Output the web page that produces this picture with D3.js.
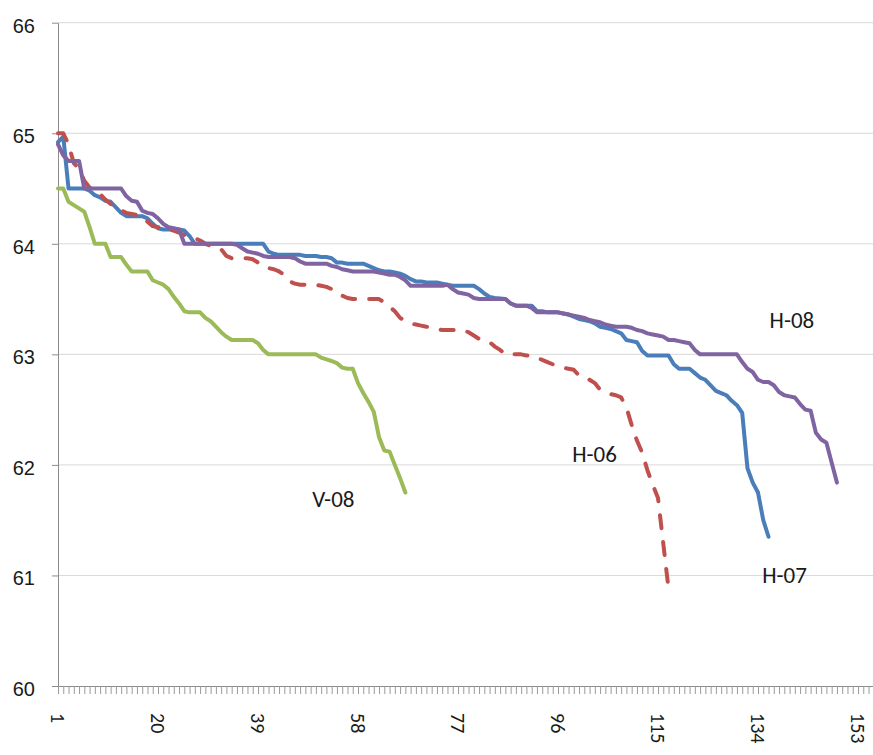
<!DOCTYPE html>
<html>
<head>
<meta charset="utf-8">
<script src="https://cdn.jsdelivr.net/npm/d3@7"></script>
<style>
  body { margin: 0; background: #fff; }
  svg { display: block; font-family: Calibri, Carlito, Lato, sans-serif; }
</style>
</head>
<body>
<div class="chart"></div>
<script>
// categories 1..156 on the x axis, labelled every 19th
const categories = d3.range(1, 157);
const xTickLabels = [1, 20, 39, 58, 77, 96, 115, 134, 153];
const yTicks = [60, 61, 62, 63, 64, 65, 66];

const v08 = [
  64.5, 64.5, 64.38, 64.35, 64.32, 64.29, 64.15, 64.0, 64.0, 64.0,
  63.88, 63.88, 63.88, 63.81, 63.75, 63.75, 63.75, 63.75, 63.67, 63.65,
  63.63, 63.59, 63.52, 63.46, 63.39, 63.38, 63.38, 63.38, 63.33, 63.3,
  63.25, 63.2, 63.16, 63.13, 63.13, 63.13, 63.13, 63.13, 63.1, 63.04,
  63.0, 63.0, 63.0, 63.0, 63.0, 63.0, 63.0, 63.0, 63.0, 63.0,
  62.97, 62.955, 62.94, 62.92, 62.88, 62.87, 62.87, 62.74, 62.65, 62.57,
  62.48, 62.25, 62.13, 62.12, 62.0, 61.88, 61.75
];

const h06 = [
  65.0, 65.0, 64.9, 64.73, 64.68, 64.57, 64.51, 64.48, 64.45, 64.4,
  64.36, 64.34, 64.3, 64.28, 64.27, 64.26, 64.25, 64.2, 64.16, 64.15,
  64.14, 64.13, 64.12, 64.1, 64.08, 64.06, 64.05, 64.03, 64.0, 63.98,
  63.96, 63.95, 63.89, 63.87, 63.87, 63.87, 63.87, 63.86, 63.83, 63.79,
  63.78, 63.77, 63.75, 63.72, 63.66, 63.64, 63.63, 63.63, 63.63, 63.63,
  63.62, 63.61, 63.59, 63.57, 63.53, 63.51, 63.5, 63.5, 63.5, 63.5,
  63.5, 63.5, 63.47, 63.43, 63.39, 63.33, 63.3, 63.28, 63.27, 63.26,
  63.25, 63.24, 63.23, 63.22, 63.22, 63.22, 63.22, 63.22, 63.2, 63.17,
  63.14, 63.12, 63.11, 63.07, 63.04, 63.0, 63.0, 63.0, 63.0, 62.99,
  62.99, 62.97, 62.95, 62.93, 62.91, 62.89, 62.88, 62.87, 62.86, 62.81,
  62.78, 62.77, 62.74, 62.68, 62.66, 62.64, 62.63, 62.61, 62.52, 62.36,
  62.22, 62.11, 61.95, 61.82, 61.7, 61.29, 60.88
];

const h07 = [
  64.92, 64.97, 64.5, 64.5, 64.5, 64.5, 64.48, 64.44, 64.42, 64.39,
  64.38, 64.33, 64.28, 64.25, 64.25, 64.25, 64.25, 64.23, 64.18, 64.14,
  64.13, 64.13, 64.13, 64.13, 64.12, 64.07, 64.0, 64.0, 64.0, 64.0,
  64.0, 64.0, 64.0, 64.0, 64.0, 64.0, 64.0, 64.0, 64.0, 64.0,
  63.93, 63.91, 63.9, 63.9, 63.9, 63.9, 63.9, 63.89, 63.89, 63.89,
  63.88, 63.88, 63.87, 63.83, 63.83, 63.82, 63.82, 63.82, 63.82, 63.8,
  63.78, 63.76, 63.75, 63.75, 63.74, 63.73, 63.71, 63.68, 63.66, 63.66,
  63.65, 63.65, 63.65, 63.64, 63.63, 63.62, 63.62, 63.62, 63.62, 63.62,
  63.59, 63.55, 63.52, 63.51, 63.505, 63.5, 63.46, 63.44, 63.44, 63.44,
  63.44, 63.39, 63.39, 63.38, 63.38, 63.38, 63.37, 63.36, 63.34, 63.32,
  63.31, 63.3, 63.28, 63.25, 63.24, 63.23, 63.21, 63.19, 63.13, 63.12,
  63.11, 63.03, 62.99, 62.99, 62.99, 62.99, 62.99, 62.91, 62.87, 62.87,
  62.87, 62.83, 62.79, 62.77, 62.72, 62.67, 62.65, 62.63, 62.58, 62.54,
  62.47, 61.97, 61.84, 61.75, 61.5, 61.35
];

const h08 = [
  64.9, 64.8, 64.75, 64.75, 64.75, 64.5, 64.5, 64.5, 64.5, 64.5,
  64.5, 64.5, 64.5, 64.43, 64.39, 64.38, 64.3, 64.28, 64.27, 64.23,
  64.18, 64.15, 64.14, 64.13, 64.0, 64.0, 64.0, 64.0, 64.0, 64.0,
  64.0, 64.0, 64.0, 64.0, 63.99, 63.96, 63.93, 63.92, 63.91, 63.89,
  63.88, 63.88, 63.88, 63.88, 63.88, 63.87, 63.84, 63.82, 63.82, 63.82,
  63.82, 63.82, 63.8, 63.79, 63.77, 63.76, 63.75, 63.75, 63.75, 63.75,
  63.75, 63.74, 63.73, 63.72, 63.72, 63.7, 63.67, 63.62, 63.62, 63.62,
  63.62, 63.62, 63.62, 63.62, 63.63, 63.59, 63.56, 63.55, 63.54, 63.51,
  63.5, 63.5, 63.5, 63.5, 63.5, 63.5, 63.46, 63.44, 63.44, 63.44,
  63.42, 63.38, 63.38, 63.38, 63.38, 63.38, 63.37, 63.36, 63.35, 63.34,
  63.33, 63.31, 63.3, 63.29, 63.27, 63.26, 63.25, 63.25, 63.25, 63.24,
  63.22, 63.21, 63.19, 63.18, 63.17, 63.16, 63.13, 63.13, 63.12, 63.11,
  63.1, 63.04, 63.0, 63.0, 63.0, 63.0, 63.0, 63.0, 63.0, 63.0,
  62.93, 62.87, 62.84, 62.77, 62.75, 62.75, 62.72, 62.66, 62.63, 62.62,
  62.61, 62.55, 62.5, 62.49, 62.29, 62.23, 62.2, 62.02, 61.84
];

const width = 873, height = 755;
const margin = { top: 22.7, left: 58, bottom: 69 };
const step = 100 / 19;

const xScale = d3.scaleLinear()
  .domain([1, categories.length])
  .range([margin.left, margin.left + (categories.length - 1) * step]);
const yScale = d3.scaleLinear()
  .domain([60, 66])
  .range([height - margin.bottom, margin.top]);

const svg = d3.select(".chart")
  .append("svg")
  .attr("width", width)
  .attr("height", height);

// horizontal gridlines
svg.append("g")
  .selectAll("line")
  .data(yTicks.slice(1))
  .enter()
  .append("line")
  .attr("x1", margin.left)
  .attr("x2", width)
  .attr("y1", d => yScale(d))
  .attr("y2", d => yScale(d))
  .attr("stroke", "#d9d9d9")
  .attr("stroke-width", 1);

const yAxis = d3.axisLeft(yScale)
  .tickValues(yTicks)
  .tickFormat(d3.format("d"))
  .tickSize(6)
  .tickPadding(17)
  .tickSizeOuter(0);

const gy = svg.append("g")
  .attr("class", "y-axis")
  .attr("transform", `translate(${margin.left},0)`)
  .call(yAxis);
gy.select(".domain").attr("stroke", "#8c8c8c");
gy.selectAll(".tick line").attr("stroke", "#8c8c8c");
gy.selectAll(".tick text")
  .attr("dy", "0.47em")
  .style("font-size", "20px")
  .attr("fill", "#1a1a1a");

// x axis: a small tick under every category
const xAxis = d3.axisBottom(xScale)
  .tickValues(categories)
  .tickSize(8)
  .tickSizeOuter(0)
  .tickFormat("");

const gx = svg.append("g")
  .attr("class", "x-axis")
  .attr("transform", `translate(0,${yScale(60)})`)
  .call(xAxis);
gx.select(".domain").attr("stroke", "#8c8c8c").attr("d", `M${margin.left},0.5H${width}`);
gx.selectAll(".tick line").attr("stroke", "#9a9a9a");

svg.append("g")
  .selectAll("text")
  .data(xTickLabels)
  .enter()
  .append("text")
  .attr("transform", d => `translate(${xScale(d)},713) rotate(90)`)
  .attr("dy", "0.36em")
  .style("font-size", "20px")
  .attr("fill", "#1a1a1a")
  .text(d => d);

const line = d3.line()
  .x((d, i) => xScale(i + 1))
  .y(d => yScale(d));

const series = [
  { name: "V-08", values: v08, color: "#9bbb59", dash: null },
  { name: "H-07", values: h07, color: "#4a7ebb", dash: null },
  { name: "H-06", values: h06, color: "#c0504d", dash: "13,14" },
  { name: "H-08", values: h08, color: "#8064a2", dash: null }
];

svg.append("g")
  .selectAll("path")
  .data(series)
  .enter()
  .append("path")
  .attr("d", d => line(d.values))
  .attr("fill", "none")
  .attr("stroke", d => d.color)
  .attr("stroke-width", 4)
  .attr("stroke-linejoin", "round")
  .attr("stroke-linecap", "round")
  .attr("stroke-dasharray", d => d.dash);

// series labels, placed in data coordinates
const labelPos = {
  "H-08": [136.2, 63.24],
  "H-06": [98.7, 62.03],
  "H-07": [134.8, 60.93],
  "V-08": [49.3, 61.62]
};

svg.append("g")
  .selectAll("text")
  .data(series)
  .enter()
  .append("text")
  .attr("x", d => xScale(labelPos[d.name][0]))
  .attr("y", d => yScale(labelPos[d.name][1]))
  .style("font-size", "23px")
  .attr("fill", "#1a1a1a")
  .text(d => d.name);
</script>
</body>
</html>
